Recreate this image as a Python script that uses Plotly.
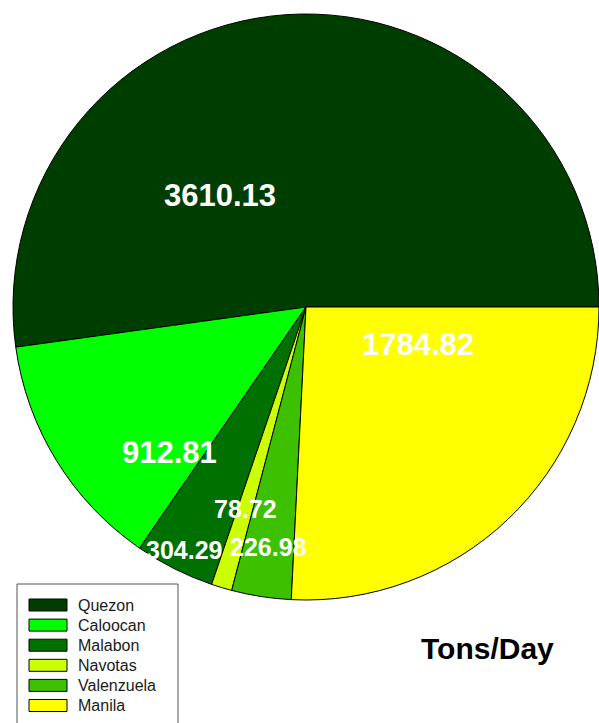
import math
import plotly.graph_objects as go

# Solid waste generation per city (tons per day)
cities = ["Quezon", "Caloocan", "Malabon", "Navotas", "Valenzuela", "Manila"]
tons_per_day = [3610.13, 912.81, 304.29, 78.72, 226.98, 1784.82]
slice_colors = ["#003d00", "#00ff00", "#007000", "#ccff00", "#3cc000", "#ffff00"]

# where each value label sits inside its slice:
# fraction along the slice's arc, fraction of the radius, font size
label_angle_frac = [0.68, 0.82, 0.5, 0.5, 0.5, 0.80]
label_radius_frac = [0.48, 0.68, 0.93, 0.72, 0.83, 0.405]
label_size = [31, 31, 25, 25, 25, 31]

W, H = 599, 723
FONT = "Liberation Sans, Arial, Helvetica, sans-serif"

# pie domain (square in pixels)
left_px = 13
size_px = W - left_px
center_y_px = 307
dom_x = [left_px / W, 1.0]
dom_y = [(H - center_y_px - size_px / 2) / H, (H - center_y_px + size_px / 2) / H]

total = sum(tons_per_day)
first_span = tons_per_day[0] / total * 360.0
# counterclockwise pies end their first slice at the rotation angle;
# shift so the first slice starts at 3 o'clock and runs up over the top
start_rotation = 90 - first_span

fig = go.Figure(
    go.Pie(
        labels=cities,
        values=tons_per_day,
        marker=dict(colors=slice_colors, line=dict(color="#000000", width=1)),
        sort=False,
        direction="counterclockwise",
        rotation=start_rotation,
        textinfo="none",
        hoverinfo="label+value",
        domain=dict(x=dom_x, y=dom_y),
        showlegend=False,
    )
)

# value labels placed from each slice's angular span
cx = (dom_x[0] + dom_x[1]) / 2 * W
cy = H - (dom_y[0] + dom_y[1]) / 2 * H
radius = size_px / 2
start = 0.0
annotations = []
for v, af, rf, fs in zip(tons_per_day, label_angle_frac, label_radius_frac, label_size):
    span = v / total * 360.0
    theta = math.radians(start + af * span)
    px = cx + rf * radius * math.cos(theta)
    py = cy - rf * radius * math.sin(theta)
    annotations.append(dict(
        x=px / W, y=1 - py / H, xref="paper", yref="paper",
        text=f"{v:.2f}", showarrow=False, xanchor="center", yanchor="middle",
        font=dict(family=FONT, size=fs, color="#ffffff", weight="bold"),
    ))
    start += span

# unit caption
annotations.append(dict(
    x=487 / W, y=1 - 648 / H, xref="paper", yref="paper",
    text="Tons/Day", showarrow=False, xanchor="center", yanchor="middle",
    font=dict(family=FONT, size=30, color="#000000", weight="bold"),
))

# legend box with wide colour swatches
shapes = [dict(
    type="rect", xref="paper", yref="paper",
    x0=17 / W, x1=178 / W, y0=1 - 740 / H, y1=1 - 584 / H,
    line=dict(color="#555555", width=1), fillcolor="#ffffff", layer="below",
)]
row0, row_step = 605, 20.1
for i, (name, col) in enumerate(zip(cities, slice_colors)):
    yc = row0 + i * row_step
    shapes.append(dict(
        type="rect", xref="paper", yref="paper",
        x0=29 / W, x1=67 / W, y0=1 - (yc + 6) / H, y1=1 - (yc - 6) / H,
        line=dict(color="#000000", width=1), fillcolor=col,
    ))
    annotations.append(dict(
        x=76 / W, y=1 - yc / H, xref="paper", yref="paper",
        text=name, showarrow=False, xanchor="left", yanchor="middle",
        font=dict(family=FONT, size=16, color="#1a1a1a"),
    ))

fig.update_layout(
    width=W, height=H,
    margin=dict(l=0, r=0, t=0, b=0),
    paper_bgcolor="#ffffff",
    plot_bgcolor="#ffffff",
    showlegend=False,
    annotations=annotations,
    shapes=shapes,
)

fig.write_html("out.html")
